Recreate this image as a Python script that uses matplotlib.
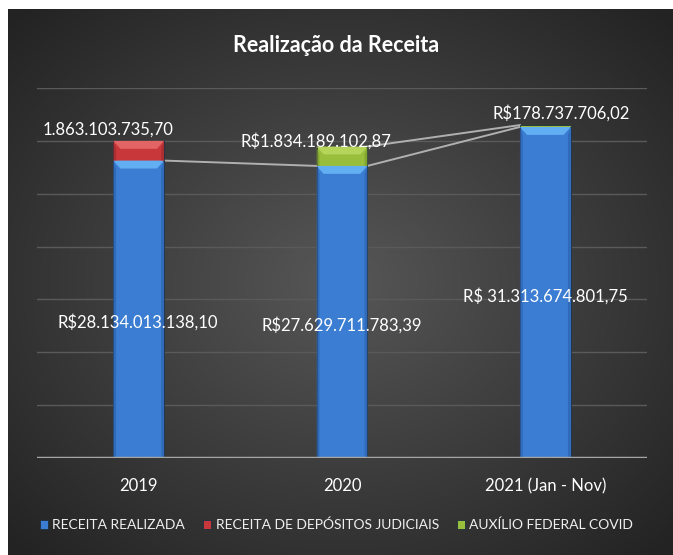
import numpy as np
import matplotlib
matplotlib.use("Agg")
import matplotlib.pyplot as plt
from matplotlib.patches import Polygon

plt.rcParams['font.family'] = ['Lato', 'DejaVu Sans']

categories = ['2019', '2020', '2021 (Jan - Nov)']
series_names = ['RECEITA REALIZADA', 'RECEITA DE DEPÓSITOS JUDICIAIS', 'AUXÍLIO FEDERAL COVID']
receita = [28134013138.10, 27629711783.39, 31313674801.75]
depositos = [1863103735.70, 0.0, 0.0]
auxilio = [0.0, 1834189102.87, 178737706.02]
labels_receita = ['R$28.134.013.138,10', 'R$27.629.711.783,39', 'R$ 31.313.674.801,75']
labels_depositos = ['1.863.103.735,70', '', '']
labels_auxilio = ['', 'R$1.834.189.102,87', 'R$178.737.706,02']

colors = ['#3A7DD2', '#C8383A', '#98BE3C']
tops = ['#62AEF2', '#E26464', '#B4D45A']
sides = ['#2C63AE', '#A02A2C', '#7A9A2C']

fig = plt.figure(figsize=(6.73, 5.55), dpi=100, facecolor='white')

# radial gradient background
bg = fig.add_axes([8 / 673, 0, 1 - 8 / 673, 1 - 9 / 555])
yy, xx = np.mgrid[-1:1:300j, -1:1:300j]
r = np.sqrt(xx ** 2 + yy ** 2)
shade = np.clip(0.34 - 0.19 * r / 1.3, 0.14, 0.34)
bg.imshow(np.dstack([shade] * 3), aspect='auto', extent=[0, 1, 0, 1])
bg.set_axis_off()

ax = fig.add_axes([37 / 673, 1 - 458 / 555, 610 / 673, 370 / 555])
ax.patch.set_alpha(0)
x = np.arange(len(categories))
w = 0.25
ax.set_xlim(-0.5, 2.5)
ax.set_ylim(0, 35e9)
ax.set_yticks(np.arange(5e9, 35.1e9, 5e9))
ax.yaxis.grid(True, color='#5A5A5A', lw=1)
ax.set_axisbelow(True)
ax.tick_params(left=False, labelleft=False, bottom=False)
for s in ax.spines.values():
    s.set_visible(False)
ax.axhline(0, color='#A6A6A6', lw=2.5, zorder=5)
ax.set_xticks(x)
ax.set_xticklabels(categories, color='white', fontsize=12)
ax.tick_params(axis='x', pad=11)

data = [receita, depositos, auxilio]
bottoms = np.zeros(3)
bx, by = 0.035, 0.75e9
seg_tops = []
for k, vals in enumerate(data):
    vals = np.array(vals)
    ax.bar(x, vals, w, bottom=bottoms, color=colors[k], edgecolor='#1E2E40',
           lw=0.6, label=series_names[k], zorder=3)
    for i in range(3):
        h = vals[i]
        if h <= 0:
            continue
        x0, x1 = x[i] - w / 2, x[i] + w / 2
        y0, y1 = bottoms[i], bottoms[i] + h
        if h > 2 * by:
            ax.add_patch(Polygon([(x0, y1), (x1, y1), (x1 - bx, y1 - by), (x0 + bx, y1 - by)],
                                 closed=True, color=tops[k], lw=0, zorder=4))
            ax.add_patch(Polygon([(x0, y1), (x0 + bx * 0.4, y1 - by), (x0 + bx * 0.4, y0), (x0, y0)],
                                 closed=True, color=sides[k], lw=0, zorder=4, alpha=0.7))
            ax.add_patch(Polygon([(x1, y1), (x1 - bx * 0.4, y1 - by), (x1 - bx * 0.4, y0), (x1, y0)],
                                 closed=True, color=sides[k], lw=0, zorder=4, alpha=0.7))
    seg_tops.append(bottoms + vals)
    bottoms = bottoms + vals

# series lines
for k, vals in enumerate(data):
    for i in range(2):
        if data[k][i] > 0 and data[k][i + 1] > 0:
            ax.plot([x[i] + w / 2, x[i + 1] - w / 2], [seg_tops[k][i], seg_tops[k][i + 1]],
                    color='#B0B0B0', lw=1.4, zorder=2)

# data labels
offs = {0: [(-1, -13), (0, -13), (0, -4)],
        1: [(-31, 21), (0, 0), (0, 0)],
        2: [(0, 0), (-26, 15), (16, 13)]}
lab_sets = [labels_receita, labels_depositos, labels_auxilio]
for k, vals in enumerate(data):
    for i in range(3):
        if not lab_sets[k][i]:
            continue
        yc = seg_tops[k][i] - vals[i] / 2
        ax.annotate(lab_sets[k][i], (x[i], yc), xytext=offs[k][i], textcoords='offset pixels',
                    ha='center', va='center', color='white', fontsize=12, zorder=6)

fig.text(0.5, 1 - 45 / 555, 'Realização da Receita', ha='center', va='center',
         color='white', fontsize=15.5, fontweight='bold')

leg = fig.legend(loc='center', bbox_to_anchor=(0.5, 1 - 525 / 555), ncol=3, frameon=False,
                 fontsize=10, handlelength=0.6, handleheight=0.6, handletextpad=0.3,
                 columnspacing=1.3, labelcolor='#F0F0F0')

fig.savefig('out.png', dpi=100, facecolor='white')
